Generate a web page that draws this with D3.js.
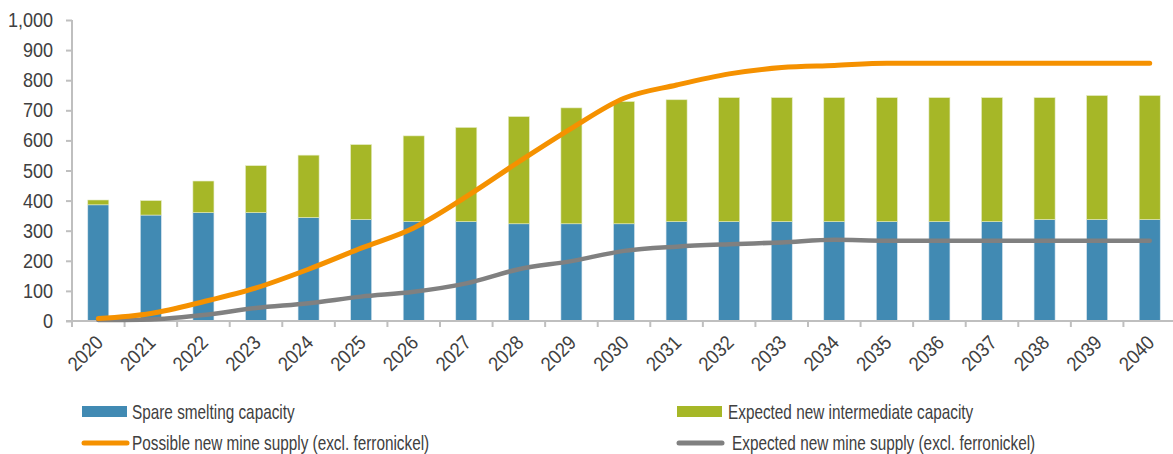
<!DOCTYPE html>
<html><head><meta charset="utf-8">
<script src="https://cdn.jsdelivr.net/npm/d3@7"></script>
<style>
body{margin:0;background:#fff;}
text{font-family:"Liberation Sans",Arial,sans-serif;fill:#404040;}
</style></head>
<body><svg id="c" width="1173" height="454"></svg>
<script>
const years = ["2020","2021","2022","2023","2024","2025","2026","2027","2028","2029","2030","2031","2032","2033","2034","2035","2036","2037","2038","2039","2040"];
const spareSmelting = [386,352,360,360,344,337,330,330,323,323,323,330,330,330,330,330,330,330,337,337,337];
const totalCapacity = [402,400,465,516,551,586,615,643,679,708,729,735,742,742,742,742,742,742,742,749,749];
const newIntermediate = totalCapacity.map((t,i)=>t-spareSmelting[i]);
const possibleMine = [8,25,64,110,172,242,309,413,529,640,740,784,821,842,849,856,856,856,856,856,856];
const expectedMine = [3,5,20,43,59,81,97,125,172,199,233,247,255,261,270,267,267,267,267,267,267];
const yTicks = [0,100,200,300,400,500,600,700,800,900,1000];
const seriesNames = ["Spare smelting capacity","Expected new intermediate capacity","Possible new mine supply (excl. ferronickel)","Expected new mine supply (excl. ferronickel)"];

const colors = {blue:"#418ab3", green:"#a6b727", orange:"#f59100", gray:"#808080", axis:"#bfbfbf"};
const svg = d3.select("#c");
const x = d3.scaleBand().domain(years).range([72,1176]).paddingInner(0.6).paddingOuter(0.3);
const xb = d3.scaleBand().domain(years).range([72,1176]);
const y = d3.scaleLinear().domain([0,1000]).range([321,20]);

// y axis
const ya = svg.append("g").attr("transform","translate(72,0)")
  .call(d3.axisLeft(y).tickValues(yTicks).tickSize(6).tickPadding(13).tickFormat(d3.format(",")));
ya.select(".domain").attr("stroke",colors.axis).attr("stroke-width",2).attr("d","M0,20V321");
ya.selectAll(".tick line").attr("stroke",colors.axis).attr("stroke-width",2);
const ysx = 0.88;
ya.selectAll(".tick text").attr("font-size",20.5).attr("fill","#404040")
  .attr("x",-19/ysx).attr("transform",`scale(${ysx},1)`);

// bars
const stack = years.map((yr,i)=>({yr, s:spareSmelting[i], n:newIntermediate[i]}));
svg.append("g").selectAll("rect.s").data(stack).join("rect")
  .attr("x",d=>x(d.yr)).attr("width",x.bandwidth())
  .attr("y",d=>y(d.s)).attr("height",d=>y(0)-y(d.s))
  .attr("fill",colors.blue).attr("stroke","#d9e6ee").attr("stroke-width",0.6);
svg.append("g").selectAll("rect.n").data(stack).join("rect")
  .attr("x",d=>x(d.yr)).attr("width",x.bandwidth())
  .attr("y",d=>y(d.s+d.n)).attr("height",d=>y(d.s)-y(d.s+d.n))
  .attr("fill",colors.green).attr("stroke","#e4ebc4").attr("stroke-width",0.6);

// x axis
const xa = svg.append("g").attr("transform","translate(0,321)");
xa.append("line").attr("x1",66).attr("x2",1173).attr("y1",0).attr("y2",0).attr("stroke",colors.axis).attr("stroke-width",2);
xa.selectAll("line.t").data(years.concat(["end"])).join("line")
  .attr("x1",(d,i)=>72+i*xb.step()).attr("x2",(d,i)=>72+i*xb.step())
  .attr("y1",0).attr("y2",6).attr("stroke",colors.axis).attr("stroke-width",2);
xa.selectAll("text").data(years).join("text")
  .attr("transform",d=>`translate(${x(d)+x.bandwidth()/2+1},${18}) rotate(-45) scale(0.9,1)`)
  .attr("text-anchor","end").attr("font-size",20).attr("dy","0.35em").text(d=>d);

// lines
const line = d3.line().x((d,i)=>x(years[i])+x.bandwidth()/2).y(d=>y(d)).curve(d3.curveMonotoneX);
svg.append("path").datum(expectedMine).attr("d",line).attr("fill","none")
  .attr("stroke",colors.gray).attr("stroke-width",4.5).attr("stroke-linecap","round").attr("stroke-linejoin","round");
svg.append("path").datum(possibleMine).attr("d",line).attr("fill","none")
  .attr("stroke",colors.orange).attr("stroke-width",5).attr("stroke-linecap","round").attr("stroke-linejoin","round");

// legend
const lg = svg.append("g");
const items = [
  {name:seriesNames[0], type:"rect", c:colors.blue, x:82, y:412, tx:132},
  {name:seriesNames[1], type:"rect", c:colors.green, x:677, y:412, tx:728},
  {name:seriesNames[2], type:"line", c:colors.orange, x:82, y:443, tx:132},
  {name:seriesNames[3], type:"line", c:colors.gray, x:677, y:443, tx:732}
];
items.forEach(it=>{
  if(it.type==="rect") lg.append("rect").attr("x",it.x).attr("y",it.y-6).attr("width",45).attr("height",11).attr("fill",it.c);
  else lg.append("line").attr("x1",it.x+2).attr("x2",it.x+45).attr("y1",it.y).attr("y2",it.y).attr("stroke",it.c).attr("stroke-width",5).attr("stroke-linecap","round");
  lg.append("text").attr("transform",`translate(${it.tx},${it.y}) scale(0.73,1)`).attr("dy","0.35em").attr("font-size",21).text(it.name);
});
</script></body></html>
